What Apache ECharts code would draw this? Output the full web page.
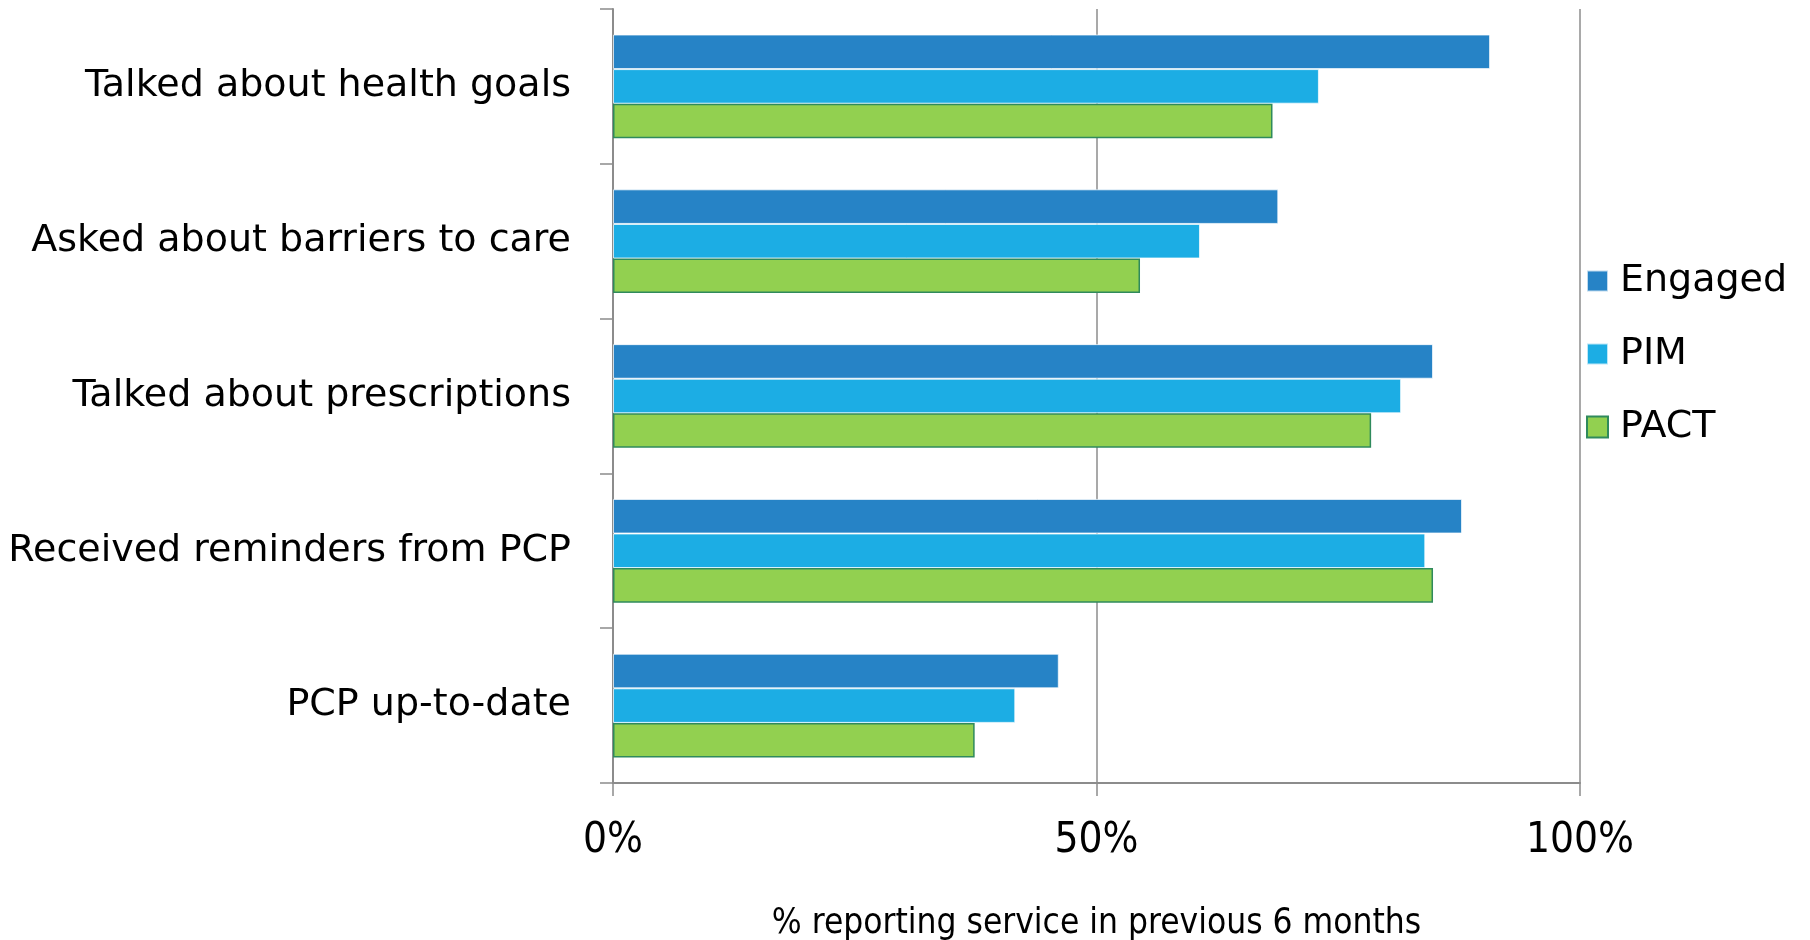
<!DOCTYPE html>
<html lang="en">
<head>
    <meta charset="UTF-8">
    <title>Services reported</title>
    <script src="https://cdn.jsdelivr.net/npm/echarts@6/dist/echarts.min.js"></script>
    <style>
        html, body { margin: 0; padding: 0; background: #fff; }
    </style>
</head>
<body>
<div id="main" style="width: 1810px;height: 940px;"></div>
<script type="text/javascript">
    // categories, top to bottom
    var categories = ['Talked about health goals', 'Asked about barriers to care', 'Talked about prescriptions',
        'Received reminders from PCP', 'PCP up-to-date'];
    var seriesNames = ['Engaged', 'PIM', 'PACT'];
    // percent reporting service
    var engaged = [90.7, 68.8, 84.8, 87.8, 46.1];
    var pim = [73.0, 60.7, 81.5, 84.0, 41.6];
    var pact = [68.2, 54.5, 78.4, 84.8, 37.4];
    var xTicks = [0, 50, 100];

    var myChart = echarts.init(document.getElementById('main'));
    var axisGray = '#8c8c8c';
    var narrow = 'Liberation Sans Narrow, DejaVu Sans Condensed';

    myChart.setOption({
        animation: false,
        grid: {
            left: 613,
            right: 230,
            top: 9,
            bottom: 157,
            outerBoundsMode: 'none',
            containLabel: false
        },
        legend: {
            data: seriesNames,
            orient: 'vertical',
            left: 1581,
            top: 256,
            itemWidth: 21,
            itemHeight: 21,
            itemGap: 33,
            icon: 'rect',
            textStyle: {
                fontFamily: 'DejaVu Sans',
                fontSize: 38,
                lineHeight: 40,
                color: '#000',
                padding: [0, 0, 0, 7]
            }
        },
        xAxis: {
            type: 'value',
            min: 0,
            max: 100,
            interval: 50,
            axisLine: {show: true, lineStyle: {color: axisGray, width: 2}},
            axisTick: {show: true, length: 13, lineStyle: {color: axisGray, width: 1.5}},
            splitLine: {show: true, lineStyle: {color: axisGray, width: 1.5}},
            axisLabel: {
                margin: 37,
                fontFamily: narrow,
                fontSize: 42,
                color: '#000',
                formatter: function (v) {
                    return xTicks.indexOf(v) >= 0 ? v + '%' : '';
                }
            },
            name: '% reporting service in previous 6 months',
            nameLocation: 'middle',
            nameGap: 123,
            nameTextStyle: {
                fontFamily: narrow,
                fontSize: 35,
                color: '#000'
            }
        },
        yAxis: {
            type: 'category',
            data: categories,
            inverse: true,
            axisLine: {show: true, lineStyle: {color: axisGray, width: 2}},
            axisTick: {show: true, length: 13, lineStyle: {color: axisGray, width: 1.5}},
            axisLabel: {
                margin: 42,
                fontFamily: 'DejaVu Sans',
                fontSize: 38,
                color: '#000'
            }
        },
        series: [{
            name: 'Engaged',
            type: 'bar',
            data: engaged,
            barGap: '0%',
            barCategoryGap: '33%',
            itemStyle: {color: '#2683C6', borderColor: 'rgba(255,255,255,0.7)', borderWidth: 1}
        }, {
            name: 'PIM',
            type: 'bar',
            data: pim,
            barGap: '0%',
            barCategoryGap: '33%',
            itemStyle: {color: '#1CADE4', borderColor: 'rgba(255,255,255,0.7)', borderWidth: 1}
        }, {
            name: 'PACT',
            type: 'bar',
            data: pact,
            barGap: '0%',
            barCategoryGap: '33%',
            itemStyle: {color: '#92D050', borderColor: '#2F8A5C', borderWidth: 1.5}
        }]
    });
</script>
</body>
</html>
